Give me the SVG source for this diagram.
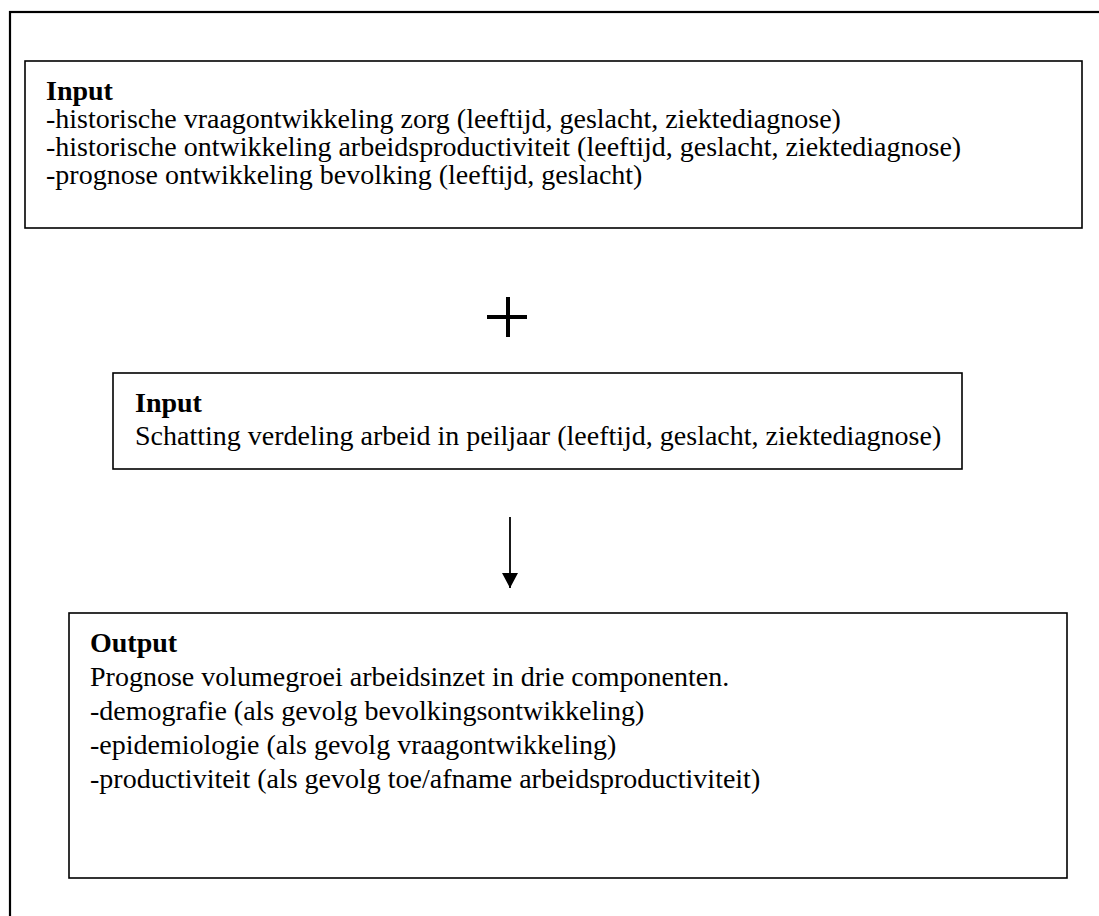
<svg xmlns="http://www.w3.org/2000/svg" width="1099" height="916" viewBox="0 0 1099 916">
<defs>
<style>
.box{fill:#fff;stroke:#000;stroke-width:1.6}
.t{font-family:"Liberation Serif","Times New Roman",serif;font-size:28px;fill:#000}
.b{font-weight:bold}
</style>
<marker id="ah" markerWidth="16" markerHeight="16" refX="15" refY="8" orient="auto" markerUnits="userSpaceOnUse">
<path d="M0,0 L15,8 L0,16 Z" fill="#000"/>
</marker>
</defs>
<rect width="1099" height="916" fill="#fff"/>
<rect x="10" y="12" width="1100" height="920" fill="none" stroke="#000" stroke-width="2.2"/>
<g id="input1">
<rect class="box" x="25" y="61" width="1057" height="167"/>
<text class="t b" x="46" y="100">Input</text>
<text class="t" x="46" y="128">-historische vraagontwikkeling zorg (leeftijd, geslacht, ziektediagnose)</text>
<text class="t" x="46" y="156">-historische ontwikkeling arbeidsproductiviteit (leeftijd, geslacht, ziektediagnose)</text>
<text class="t" x="46" y="184">-prognose ontwikkeling bevolking (leeftijd, geslacht)</text>
</g>
<g id="plus">
<line x1="487" y1="317" x2="527" y2="317" stroke="#000" stroke-width="4"/>
<line x1="508" y1="297" x2="508" y2="337" stroke="#000" stroke-width="4"/>
</g>
<g id="input2">
<rect class="box" x="113" y="373" width="849" height="96"/>
<text class="t b" x="135" y="412">Input</text>
<text class="t" x="135" y="445">Schatting verdeling arbeid in peiljaar (leeftijd, geslacht, ziektediagnose)</text>
</g>
<g id="connectors">
<line x1="510" y1="517" x2="510" y2="588" stroke="#000" stroke-width="1.8" marker-end="url(#ah)"/>
</g>
<g id="output">
<rect class="box" x="69" y="613" width="998" height="265"/>
<text class="t b" x="90" y="652">Output</text>
<text class="t" x="90" y="686">Prognose volumegroei arbeidsinzet in drie componenten.</text>
<text class="t" x="90" y="720">-demografie (als gevolg bevolkingsontwikkeling)</text>
<text class="t" x="90" y="754">-epidemiologie (als gevolg vraagontwikkeling)</text>
<text class="t" x="90" y="788">-productiviteit (als gevolg toe/afname arbeidsproductiviteit)</text>
</g>
</svg>
